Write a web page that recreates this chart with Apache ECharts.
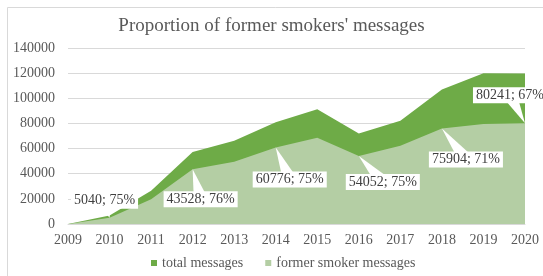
<!DOCTYPE html>
<html>
<head>
<meta charset="utf-8">
<script src="https://cdn.jsdelivr.net/npm/echarts@6/dist/echarts.min.js"></script>
<style>
  html, body { margin: 0; padding: 0; background: #fff; }
  #main { width: 543px; height: 276px; }
</style>
</head>
<body>
<div id="main"></div>
<script>
// categories
const years = ['2009', '2010', '2011', '2012', '2013', '2014', '2015', '2016', '2017', '2018', '2019', '2020'];
// series values
const totalMessages = [0, 6720, 26500, 57274, 66300, 81035, 91300, 72069, 82200, 106907, 120000, 119763];
const formerMessages = [0, 5040, 19600, 43528, 49600, 60776, 68700, 54052, 62300, 75904, 79500, 80241];
// years that carry a callout
const calloutYears = ['2010', '2012', '2014', '2016', '2018', '2020'];

// callout box offsets from the point (px), layout only
const calloutOffsets = [[-5, -17], [8, 30], [14, 32], [24, 26], [24, 31], [-15, -28]];

const serif = '"Liberation Serif", "Times New Roman", serif';
const darkGreen = '#6eab47';
const lightGreen = '#b4cea4';

const calloutData = calloutYears.map(function (y) {
  const i = years.indexOf(y);
  return [i, formerMessages[i], totalMessages[i]];
});

const chart = echarts.init(document.getElementById('main'));

const option = {
  animation: false,
  backgroundColor: '#fff',
  graphic: [{
    type: 'rect',
    shape: { x: 7.5, y: 7.5, width: 540, height: 275 },
    style: { fill: 'none', stroke: '#d9d9d9', lineWidth: 1 },
    silent: true
  }],
  title: {
    text: "Proportion of former smokers' messages",
    left: 'center',
    top: 12,
    textStyle: { fontFamily: serif, fontSize: 19, fontWeight: 'normal', color: '#595959' }
  },
  legend: {
    bottom: 1,
    left: 146,
    icon: 'rect',
    itemWidth: 6,
    itemHeight: 6,
    itemGap: 22,
    data: ['total messages', 'former smoker messages'],
    textStyle: { fontFamily: serif, fontSize: 14, color: '#595959' }
  },
  grid: { left: 68, right: 18, top: 48, bottom: 52 },
  xAxis: {
    type: 'category',
    data: years,
    boundaryGap: false,
    axisLine: { lineStyle: { color: '#d9d9d9' } },
    axisTick: { show: false },
    axisLabel: { fontFamily: serif, fontSize: 14, color: '#595959', margin: 9 }
  },
  yAxis: {
    type: 'value',
    min: 0,
    max: 140000,
    interval: 20000,
    axisLine: { show: false },
    axisTick: { show: false },
    splitLine: { lineStyle: { color: '#d9d9d9' } },
    axisLabel: {
      fontFamily: serif, fontSize: 14, color: '#595959', margin: 13,
      formatter: function (v) { return String(v); }
    }
  },
  series: [
    {
      name: 'total messages',
      type: 'line',
      data: totalMessages,
      symbol: 'none',
      itemStyle: { color: darkGreen },
      lineStyle: { width: 0 },
      areaStyle: { color: darkGreen, opacity: 1 }
    },
    {
      name: 'former smoker messages',
      type: 'line',
      data: formerMessages,
      symbol: 'none',
      itemStyle: { color: lightGreen },
      lineStyle: { width: 0 },
      areaStyle: { color: lightGreen, opacity: 1 }
    },
    {
      type: 'custom',
      data: calloutData,
      z: 10,
      silent: true,
      renderItem: function (params, api) {
        const p = api.coord([api.value(0), api.value(1)]);
        const off = calloutOffsets[params.dataIndex];
        const cx = p[0] + off[0];
        const cy = p[1] + off[1];
        const dx = cx - p[0], dy = cy - p[1];
        const len = Math.sqrt(dx * dx + dy * dy);
        const nx = -dy / len * 7, ny = dx / len * 7;
        const pct = Math.round(api.value(1) / api.value(2) * 100);
        return {
          type: 'group',
          children: [
            {
              type: 'polygon',
              shape: { points: [[p[0], p[1]], [cx + nx, cy + ny], [cx - nx, cy - ny]] },
              style: { fill: '#fff', lineWidth: 0 }
            },
            {
              type: 'text',
              style: {
                text: api.value(1) + '; ' + pct + '%',
                x: cx,
                y: cy,
                align: 'center',
                verticalAlign: 'middle',
                font: '14px ' + serif,
                fill: '#404040',
                backgroundColor: '#fff',
                padding: [1, 3]
              }
            }
          ]
        };
      }
    }
  ]
};

chart.setOption(option);
</script>
</body>
</html>
